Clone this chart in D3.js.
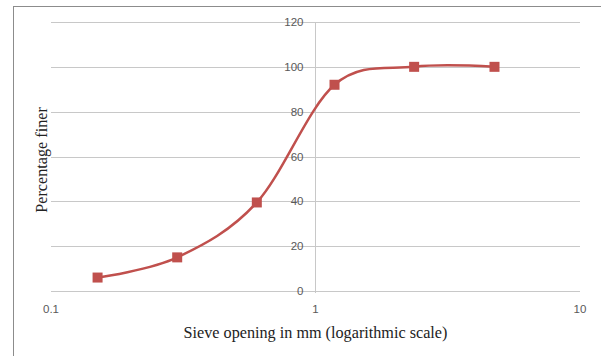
<!DOCTYPE html>
<html>
<head>
<meta charset="utf-8">
<script src="https://cdn.jsdelivr.net/npm/d3@7"></script>
<style>
  body { margin: 0; background: #fff; }
</style>
</head>
<body>
<div id="chart"></div>
<script>
// sieve analysis data
var sieveSizes = [0.15, 0.3, 0.6, 1.18, 2.36, 4.75];
var percentFiner = [6, 15, 39.5, 92, 100, 100];
var yTicks = [0, 20, 40, 60, 80, 100, 120];
var xTicks = [0.1, 1, 10];

var width = 601, height = 356;

var svg = d3.select("#chart").append("svg")
    .attr("width", width)
    .attr("height", height);

// outer frame (runs off right and bottom edges)
svg.append("rect")
    .attr("x", 13.5)
    .attr("y", 6.5)
    .attr("width", 620)
    .attr("height", 380)
    .style("fill", "none")
    .style("stroke", "#8c8c8c")
    .style("stroke-width", "1px");

var x = d3.scaleLog().domain([0.1, 10]).range([51, 580]);
var y = d3.scaleLinear().domain([0, 120]).range([291, 22]);

// horizontal gridlines
svg.selectAll(".grid")
    .data(yTicks)
    .enter().append("line")
    .attr("x1", x(0.1))
    .attr("x2", x(10))
    .attr("y1", function(d) { return Math.round(y(d)) + 0.5; })
    .attr("y2", function(d) { return Math.round(y(d)) + 0.5; })
    .style("stroke", "#c8c8c8")
    .style("stroke-width", "1px");

// vertical axis crossing at 1
svg.append("line")
    .attr("x1", Math.round(x(1)) + 0.5)
    .attr("x2", Math.round(x(1)) + 0.5)
    .attr("y1", y(120))
    .attr("y2", y(0) + 2)
    .style("stroke", "#c8c8c8")
    .style("stroke-width", "1px");

// y tick labels
svg.selectAll(".ylab")
    .data(yTicks)
    .enter().append("text")
    .attr("x", x(1) - 12)
    .attr("y", function(d) { return y(d); })
    .attr("dy", "0.35em")
    .attr("text-anchor", "end")
    .text(function(d) { return d; })
    .style("font-family", "Liberation Sans, Arial, sans-serif")
    .style("font-size", "11.5px")
    .style("fill", "#595959");

// x tick labels
svg.selectAll(".xlab")
    .data(xTicks)
    .enter().append("text")
    .attr("x", function(d) { return x(d); })
    .attr("y", 313)
    .attr("text-anchor", "middle")
    .text(function(d) { return d; })
    .style("font-family", "Liberation Sans, Arial, sans-serif")
    .style("font-size", "11.5px")
    .style("fill", "#595959");

// axis titles
svg.append("text")
    .attr("x", x(1))
    .attr("y", 338)
    .attr("text-anchor", "middle")
    .text("Sieve opening in mm (logarithmic scale)")
    .style("font-family", "Liberation Serif, Times New Roman, serif")
    .style("font-size", "16.2px")
    .style("fill", "#222");

svg.append("text")
    .attr("transform", "translate(47,160) rotate(-90)")
    .attr("text-anchor", "middle")
    .text("Percentage finer")
    .style("font-family", "Liberation Serif, Times New Roman, serif")
    .style("font-size", "16.2px")
    .style("fill", "#222");

var points = sieveSizes.map(function(s, i) { return [s, percentFiner[i]]; });

// smoothed line
var line = d3.line()
    .x(function(d) { return x(d[0]); })
    .y(function(d) { return y(d[1]); })
    .curve(d3.curveCardinal.tension(0));

svg.append("path")
    .datum(points)
    .attr("d", line)
    .style("fill", "none")
    .style("stroke", "#c0504d")
    .style("stroke-width", "2.5px");

// square markers
var ms = 10;
svg.selectAll(".marker")
    .data(points)
    .enter().append("rect")
    .attr("x", function(d) { return x(d[0]) - ms / 2; })
    .attr("y", function(d) { return y(d[1]) - ms / 2; })
    .attr("width", ms)
    .attr("height", ms)
    .style("fill", "#c0504d");
</script>
</body>
</html>
